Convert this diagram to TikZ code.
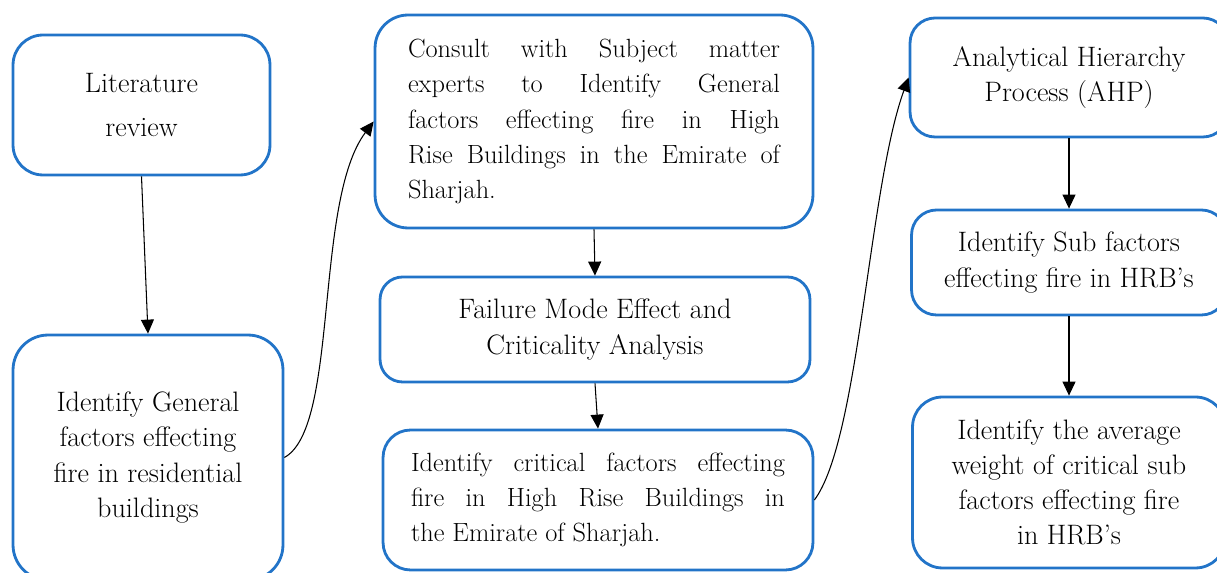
\documentclass[tikz,border=0pt]{standalone}
\usepackage{tikz}
\usetikzlibrary{arrows.meta}

\definecolor{boxblue}{RGB}{34,116,200}

\begin{document}
\begin{tikzpicture}[x=0.02cm,y=-0.02cm,
    stage/.style={draw=boxblue,line width=1.6pt,rounded corners=0.6cm,
      align=center,inner sep=0pt,font=\fontsize{16}{20}\selectfont},
    >={Triangle[length=0.28cm,width=0.26cm]}]
    \useasboundingbox (0,0) rectangle (1217,573);
    % left column
    \node[stage,minimum width=5.14cm,minimum height=2.8cm,
      font=\fontsize{16}{25.5}\selectfont] (lit) at (141.5,105) {Literature\\review};
    \node[stage,minimum width=5.4cm,minimum height=4.9cm,rounded corners=0.7cm]
      (lgen) at (148,457.5) {Identify General\\factors effecting\\fire in residential\\buildings};
    % middle column
    \node[stage,minimum width=8.76cm,minimum height=4.26cm,rounded corners=0.66cm,
      font=\fontsize{15}{20}\selectfont,text width=7.44cm,align=justify] (consult) at (594,121.5)
      {Consult with Subject matter\linebreak experts to Identify General\linebreak
       factors effecting fire in High\linebreak Rise Buildings in the Emirate of\linebreak Sharjah.};
    \node[stage,minimum width=8.6cm,minimum height=2.1cm,rounded corners=0.45cm]
      (fmeca) at (595,329.5) {Failure Mode Effect and\\Criticality Analysis};
    \node[stage,minimum width=8.6cm,minimum height=2.8cm,rounded corners=0.55cm,
      font=\fontsize{15}{20}\selectfont,text width=7.48cm,align=justify] (crit) at (598,500)
      {Identify critical factors effecting\linebreak fire in High Rise Buildings in\linebreak the Emirate of Sharjah.};
    % right column
    \node[stage,minimum width=6.36cm,minimum height=2.38cm,rounded corners=0.5cm]
      (ahp) at (1069,77.5) {Analytical Hierarchy\\Process (AHP)};
    \node[stage,minimum width=6.3cm,minimum height=2.1cm,rounded corners=0.5cm]
      (sub) at (1069,262.5) {Identify Sub factors\\effecting fire in HRB's};
    \node[stage,minimum width=6.26cm,minimum height=3.42cm,rounded corners=0.6cm]
      (avg) at (1069,482.5) {Identify the average\\weight of critical sub\\factors effecting fire\\in HRB's};
    % connectors
    \draw[->,semithick] (lit.south) -- (lgen.north);
    \draw[->,semithick] (lgen.east) .. controls +(55,-30) and +(-60,80) .. (consult.west);
    \draw[->,semithick] (consult.south) -- (fmeca.north);
    \draw[->,semithick] (fmeca.south) -- (crit.north);
    \draw[->,semithick] (crit.east) .. controls +(45,-60) and +(-40,110) .. (ahp.west);
    \draw[->,semithick] (ahp.south) -- (sub.north);
    \draw[->,semithick] (sub.south) -- (avg.north);
\end{tikzpicture}
\end{document}
